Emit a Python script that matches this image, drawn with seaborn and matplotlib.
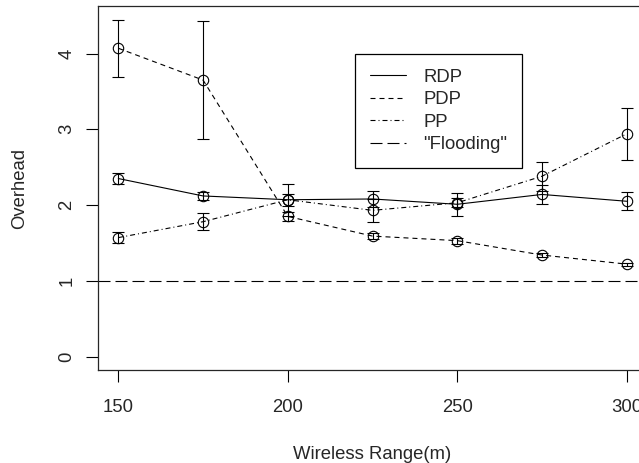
import pandas as pd
import matplotlib
matplotlib.use("Agg")
import matplotlib.pyplot as plt
from matplotlib.lines import Line2D
import seaborn as sb

# values
ranges = [150, 175, 200, 225, 250, 275, 300]
rdp = [2.35, 2.12, 2.07, 2.08, 2.01, 2.14, 2.05]
rdp_err = [0.07, 0.05, 0.08, 0.10, 0.15, 0.13, 0.12]
pdp = [4.07, 3.65, 1.85, 1.59, 1.53, 1.34, 1.22]
pdp_err = [0.375, 0.78, 0.06, 0.04, 0.04, 0.03, 0.02]
pp = [1.57, 1.78, 2.07, 1.93, 2.03, 2.38, 2.94]
pp_err = [0.077, 0.115, 0.21, 0.15, 0.06, 0.19, 0.345]
flooding = 1.0
labels = ["RDP", "PDP", "PP", '"Flooding"']

sb.set_style("ticks")
plt.rcParams["font.family"] = ["Liberation Sans", "DejaVu Sans"]
plt.rcParams["font.size"] = 13.3

df = pd.DataFrame({
    "range": ranges * 3,
    "overhead": rdp + pdp + pp,
    "err": rdp_err + pdp_err + pp_err,
    "proto": ["RDP"] * 7 + ["PDP"] * 7 + ["PP"] * 7,
})

lw = 0.8
dash = {"RDP": "", "PDP": (4.5, 3.6), "PP": (4.5, 2.7, 0.9, 2.7)}
flood_dash = (10.8, 4.5)

fig = plt.figure(figsize=(6.39, 4.63), dpi=100)
ax = fig.add_axes([98 / 639, 1 - 370 / 463, 549 / 639, 364 / 463])

sb.lineplot(data=df, x="range", y="overhead", style="proto",
            dashes=dash, markers={"RDP": "o", "PDP": "o", "PP": "o"},
            color="black", lw=lw, markersize=7.5, mfc="none",
            markeredgecolor="black", markeredgewidth=lw,
            legend=False, ax=ax, estimator=None)

for name, g in df.groupby("proto"):
    ax.errorbar(g["range"], g["overhead"], yerr=g["err"], fmt="none",
                ecolor="black", elinewidth=lw, capsize=4.2, capthick=lw)

ax.axhline(flooding, color="black", lw=lw, dashes=flood_dash)

ax.set_xlim(144, 306)
ax.set_ylim(-0.178, 4.628)
ax.set_xticks([150, 200, 250, 300])
ax.set_yticks([0, 1, 2, 3, 4])
for s in ax.spines.values():
    s.set_visible(True)
    s.set_linewidth(0.9)
ax.tick_params(direction="out", length=8.4, width=0.8, color="black", labelsize=13.3)
ax.tick_params(axis="x", pad=12.5)
ax.tick_params(axis="y", pad=8)
for t in ax.get_yticklabels():
    t.set_rotation(90)
    t.set_va("center")

ax.set_xlabel("Wireless Range(m)", fontsize=13.3)
ax.set_ylabel("Overhead", fontsize=13.3)
ax.xaxis.set_label_coords(0.5, -0.208)
ax.yaxis.set_label_coords(-0.128, 0.5)

handles = [
    Line2D([], [], color="black", lw=lw),
    Line2D([], [], color="black", lw=lw, dashes=dash["PDP"]),
    Line2D([], [], color="black", lw=lw, dashes=dash["PP"]),
    Line2D([], [], color="black", lw=lw, dashes=flood_dash),
]
leg = fig.legend(handles, labels, loc="upper left",
                 bbox_to_anchor=(355 / 639, 1 - 54 / 463),
                 fancybox=False, framealpha=1, edgecolor="black",
                 handlelength=1.95, handletextpad=0.95, labelspacing=0.3,
                 borderpad=0.8, borderaxespad=0, fontsize=13.3)
leg.get_frame().set_linewidth(0.9)

fig.savefig("out.png", dpi=100)
